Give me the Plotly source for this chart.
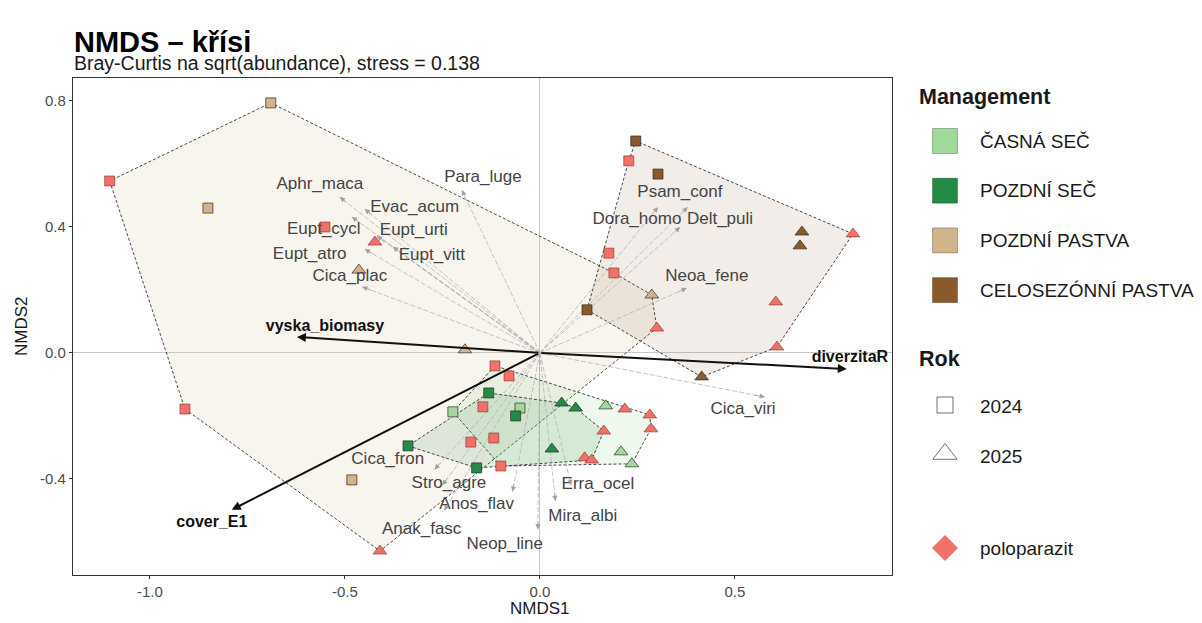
import plotly.graph_objects as go
import numpy as np

# ---------------- data ----------------
mgmt_names = ["ČASNÁ SEČ", "POZDNÍ SEČ", "POZDNÍ PASTVA", "CELOSEZÓNNÍ PASTVA"]
mgmt_colors = ["#a1d99b", "#238b45", "#d2b48c", "#8b5a2b"]
year_names = ["2024", "2025"]
polo_name = "poloparazit"
polo_color = "#f0706a"

# site scores: NMDS1, NMDS2, management index, year, poloparazit flag
site_x = [
    # POZDNÍ PASTVA (2)
    -0.690, -0.851, -0.464, -0.192, -0.482, 0.287,
    -1.103, -0.910, -0.410, -0.551, -0.423, 0.190, 0.300,
    # CELOSEZÓNNÍ PASTVA (3)
    0.246, 0.303, 0.672, 0.667, 0.415, 0.121,
    0.228, 0.803, 0.608, 0.605, 0.177,
    # ČASNÁ SEČ (0)
    -0.223, -0.051, 0.169, 0.208, 0.236,
    -0.115, -0.079, 0.218, 0.282, 0.285, -0.100,
    # POZDNÍ SEČ (1)
    -0.131, -0.338, -0.162, -0.062, 0.056, 0.092, 0.031,
    0.164, 0.115, 0.133, -0.177, -0.118, -0.146,
]
site_y = [
    0.794, 0.460, 0.263, 0.010, -0.403, 0.184,
    0.546, -0.178, -0.629, 0.400, 0.352, 0.254, 0.079,
    0.673, 0.568, 0.384, 0.340, -0.076, 0.137,
    0.610, 0.378, 0.019, 0.162, 0.317,
    -0.187, -0.175, -0.168, -0.314, -0.352,
    -0.041, -0.073, -0.178, -0.197, -0.241, -0.359,
    -0.127, -0.295, -0.365, -0.200, -0.159, -0.175, -0.305,
    -0.248, -0.333, -0.340, -0.283, -0.270, -0.171,
]
site_m = [2] * 13 + [3] * 11 + [0] * 11 + [1] * 13
site_year = [
    "2024", "2024", "2025", "2025", "2024", "2025",
    "2024", "2024", "2025", "2024", "2025", "2024", "2025",
    "2024", "2024", "2025", "2025", "2025", "2024",
    "2024", "2025", "2025", "2025", "2024",
    "2024", "2024", "2025", "2025", "2025",
    "2024", "2024", "2025", "2025", "2025", "2024",
    "2024", "2024", "2024", "2024", "2025", "2025", "2025",
    "2025", "2025", "2025", "2024", "2024", "2024",
]
site_polo = (
    [0] * 6 + [1] * 7 +
    [0] * 6 + [1] * 5 +
    [0] * 5 + [1] * 6 +
    [0] * 7 + [1] * 6
)

# species vectors (arrow tips) and label positions
sp_names = ["Aphr_maca", "Evac_acum", "Eupt_cycl", "Eupt_urti", "Eupt_atro", "Eupt_vitt",
            "Cica_plac", "Para_luge", "Psam_conf", "Dora_homo", "Delt_puli", "Neoa_fene",
            "Cica_viri", "Cica_fron", "Stro_agre", "Anos_flav", "Anak_fasc", "Neop_line",
            "Erra_ocel", "Mira_albi"]
sp_x = [-0.513, -0.449, -0.482, -0.418, -0.449, -0.377, -0.456, -0.200, 0.379, 0.303,
        0.360, 0.377, 0.577, -0.270, -0.250, -0.070, -0.245, -0.005, 0.080, 0.040]
sp_y = [0.495, 0.457, 0.432, 0.371, 0.330, 0.337, 0.210, 0.517, 0.463, 0.463,
        0.400, 0.206, -0.140, -0.370, -0.420, -0.440, -0.500, -0.560, -0.420, -0.470]
lab_x = [-0.564, -0.321, -0.554, -0.323, -0.590, -0.277, -0.487, -0.146, 0.359, 0.249,
         0.462, 0.428, 0.521, -0.390, -0.233, -0.162, -0.303, -0.090, 0.149, 0.110]
lab_y = [0.533, 0.460, 0.390, 0.387, 0.311, 0.308, 0.241, 0.556, 0.508, 0.422,
         0.422, 0.241, -0.181, -0.340, -0.416, -0.483, -0.562, -0.610, -0.419, -0.521]

# environmental vectors
env_names = ["vyska_biomasy", "cover_E1", "diverzitaR"]
env_x = [-0.623, -0.790, 0.787]
env_y = [0.051, -0.498, -0.051]
env_lab_x = [-0.551, -0.841, 0.795]
env_lab_y = [0.083, -0.540, -0.016]

title = "NMDS – křísi"
subtitle = "Bray-Curtis na sqrt(abundance), stress = 0.138"
x_ticks = [-1.0, -0.5, 0.0, 0.5]
y_ticks = [-0.4, 0.0, 0.4, 0.8]

# ---------------- layout geometry ----------------
FONT = "Liberation Sans, Arial, sans-serif"
OFF = 8                      # page body margin of the html page
W, H = 1202 - OFF, 623 - OFF  # figure size
PANEL_L, PANEL_R, PANEL_T, PANEL_B = 73, 892, 78, 575  # panel edges on screen
ML = PANEL_L - OFF
MT = PANEL_T - OFF
MB = H - (PANEL_B - OFF)
paper_w = W - ML
main_dom = (PANEL_R - PANEL_L) / paper_w


def convex_hull(points):
    pts = sorted(set(points))
    if len(pts) < 3:
        return pts

    def cross(o, a, b):
        return (a[0] - o[0]) * (b[1] - o[1]) - (a[1] - o[1]) * (b[0] - o[0])

    lower, upper = [], []
    for p in pts:
        while len(lower) >= 2 and cross(lower[-2], lower[-1], p) <= 0:
            lower.pop()
        lower.append(p)
    for p in reversed(pts):
        while len(upper) >= 2 and cross(upper[-2], upper[-1], p) <= 0:
            upper.pop()
        upper.append(p)
    return lower[:-1] + upper[:-1]


def rgba(hexc, a):
    h = hexc.lstrip("#")
    return "rgba(%d,%d,%d,%.3f)" % (int(h[0:2], 16), int(h[2:4], 16), int(h[4:6], 16), a)


def py2paper(py):
    return (PANEL_B - py) / (PANEL_B - PANEL_T)


def px2paper(px):
    return (px - PANEL_L) / paper_w


fig = go.Figure()

# ---------------- hulls ----------------
hull_order = [2, 3, 0, 1]
hull_alpha = {2: 0.15, 3: 0.11, 0: 0.18, 1: 0.13}
for m in hull_order:
    pts = [(site_x[i], site_y[i]) for i in range(len(site_x)) if site_m[i] == m]
    h = convex_hull(pts)
    hx = [p[0] for p in h] + [h[0][0]]
    hy = [p[1] for p in h] + [h[0][1]]
    fig.add_trace(go.Scatter(
        x=hx, y=hy, mode="lines", fill="toself",
        fillcolor=rgba(mgmt_colors[m], hull_alpha[m]),
        line=dict(color="#1a1a1a", width=0.8, dash="3px,2px"),
        hoverinfo="skip", showlegend=False))

# ---------------- species arrows ----------------
lx, ly = [], []
for x, y in zip(sp_x, sp_y):
    lx += [0, x, None]
    ly += [0, y, None]
fig.add_trace(go.Scatter(x=lx, y=ly, mode="lines",
                         line=dict(color="#ababab", width=0.7, dash="5px,2px"),
                         hoverinfo="skip", showlegend=False))

annotations = []
for x, y in zip(sp_x, sp_y):
    L = np.hypot(x, y)
    annotations.append(dict(
        x=x, y=y, ax=x - 0.03 * x / L, ay=y - 0.03 * y / L,
        xref="x", yref="y", axref="x", ayref="y",
        showarrow=True, arrowhead=2, arrowsize=1.5, arrowwidth=0.7,
        arrowcolor="#a0a0a0", text=""))

# ---------------- environmental arrows ----------------
for x, y in zip(env_x, env_y):
    annotations.append(dict(
        x=x, y=y, ax=0, ay=0, xref="x", yref="y", axref="x", ayref="y",
        showarrow=True, arrowhead=2, arrowsize=0.9, arrowwidth=2,
        arrowcolor="#111111", text=""))

# ---------------- site points ----------------
for m in range(len(mgmt_names)):
    for yr, sym, size in [("2024", "square", 10), ("2025", "triangle-up", 12)]:
        for polo in [0, 1]:
            idx = [i for i in range(len(site_x))
                   if site_m[i] == m and site_year[i] == yr and site_polo[i] == polo]
            if not idx:
                continue
            fig.add_trace(go.Scatter(
                x=[site_x[i] for i in idx], y=[site_y[i] for i in idx],
                mode="markers",
                marker=dict(symbol=sym, size=size,
                            color=polo_color if polo else mgmt_colors[m],
                            line=dict(color="rgba(120,40,40,0.8)" if polo else "#2b2b2b",
                                      width=0.7)),
                hoverinfo="skip", showlegend=False))

# ---------------- labels ----------------
fig.add_trace(go.Scatter(x=lab_x, y=lab_y, mode="text", text=sp_names,
                         textfont=dict(family=FONT, size=17, color="#444444"),
                         hoverinfo="skip", showlegend=False))
fig.add_trace(go.Scatter(x=env_lab_x, y=env_lab_y, mode="text",
                         text=["<b>%s</b>" % n for n in env_names],
                         textfont=dict(family=FONT, size=16, color="#111111"),
                         hoverinfo="skip", showlegend=False))

# ---------------- legend (drawn on an auxiliary screen-pixel axis) ----------------
LEG_X0 = PANEL_R + 1
row_y = [141 + 49.7 * i for i in range(len(mgmt_names))]
fig.add_trace(go.Scatter(
    x=[945] * len(mgmt_names), y=row_y,
    mode="markers", xaxis="x2", yaxis="y2",
    marker=dict(symbol="square", size=25, color=mgmt_colors,
                line=dict(color="rgba(0,0,0,0.45)", width=0.6)),
    hoverinfo="skip", showlegend=False))
fig.add_trace(go.Scatter(
    x=[945, 945], y=[405, 454], mode="markers", xaxis="x2", yaxis="y2",
    marker=dict(symbol=["square-open", "triangle-up-open"], size=[16, 21],
                color="#333333", line=dict(width=1)),
    hoverinfo="skip", showlegend=False))
fig.add_trace(go.Scatter(
    x=[945], y=[548], mode="markers", xaxis="x2", yaxis="y2",
    marker=dict(symbol="diamond", size=20, color=polo_color),
    hoverinfo="skip", showlegend=False))

leg_texts = [("<b>Management</b>", 917, 97, 21.5)]
for i, n in enumerate(mgmt_names):
    leg_texts.append((n, 978, row_y[i], 19))
leg_texts.append(("<b>Rok</b>", 917, 359, 21.5))
leg_texts.append((year_names[0], 978, 406, 19))
leg_texts.append((year_names[1], 978, 456, 19))
leg_texts.append((polo_name, 978, 548, 19))
for t, x, y, s in leg_texts:
    annotations.append(dict(x=x, y=y, xref="x2", yref="y2", text=t, showarrow=False,
                            xanchor="left", yanchor="middle",
                            font=dict(family=FONT, size=s, color="#1a1a1a")))

# ---------------- titles ----------------
annotations += [
    dict(x=px2paper(72), y=py2paper(42), xref="paper", yref="paper",
         text="<b>%s</b>" % title,
         showarrow=False, xanchor="left", yanchor="middle",
         font=dict(family=FONT, size=29, color="#000000")),
    dict(x=px2paper(72), y=py2paper(63), xref="paper", yref="paper", text=subtitle,
         showarrow=False, xanchor="left", yanchor="middle",
         font=dict(family=FONT, size=19.5, color="#1a1a1a")),
    dict(x=px2paper(540), y=py2paper(608), xref="paper", yref="paper", text="NMDS1",
         showarrow=False, xanchor="center", yanchor="middle",
         font=dict(family=FONT, size=17, color="#1a1a1a")),
    dict(x=px2paper(21), y=py2paper(326), xref="paper", yref="paper", text="NMDS2",
         showarrow=False, xanchor="center", yanchor="middle", textangle=-90,
         font=dict(family=FONT, size=17, color="#1a1a1a")),
]

axis_common = dict(showgrid=False, zeroline=True, zerolinecolor="#c8c8c8", zerolinewidth=1,
                   showline=True, mirror=True, linecolor="#333333", linewidth=1.2,
                   ticks="outside", ticklen=3, tickcolor="#333333",
                   tickfont=dict(family=FONT, size=15, color="#4d4d4d"))

fig.update_layout(
    width=W, height=H,
    margin=dict(l=ML, r=0, t=MT, b=MB),
    paper_bgcolor="white", plot_bgcolor="white",
    showlegend=False,
    annotations=annotations,
    xaxis=dict(domain=[0, main_dom], range=[-1.197, 0.903],
               tickvals=x_ticks, ticktext=["%.1f" % v for v in x_ticks], **axis_common),
    yaxis=dict(range=[-0.705, 0.873],
               tickvals=y_ticks, ticktext=["%.1f" % v for v in y_ticks], **axis_common),
    xaxis2=dict(domain=[(LEG_X0 - PANEL_L) / paper_w, 1], range=[LEG_X0, 1202],
                visible=False, fixedrange=True),
    yaxis2=dict(domain=[0, 1], range=[PANEL_B, PANEL_T], anchor="x2",
                visible=False, fixedrange=True),
)

fig.write_html("out.html")
